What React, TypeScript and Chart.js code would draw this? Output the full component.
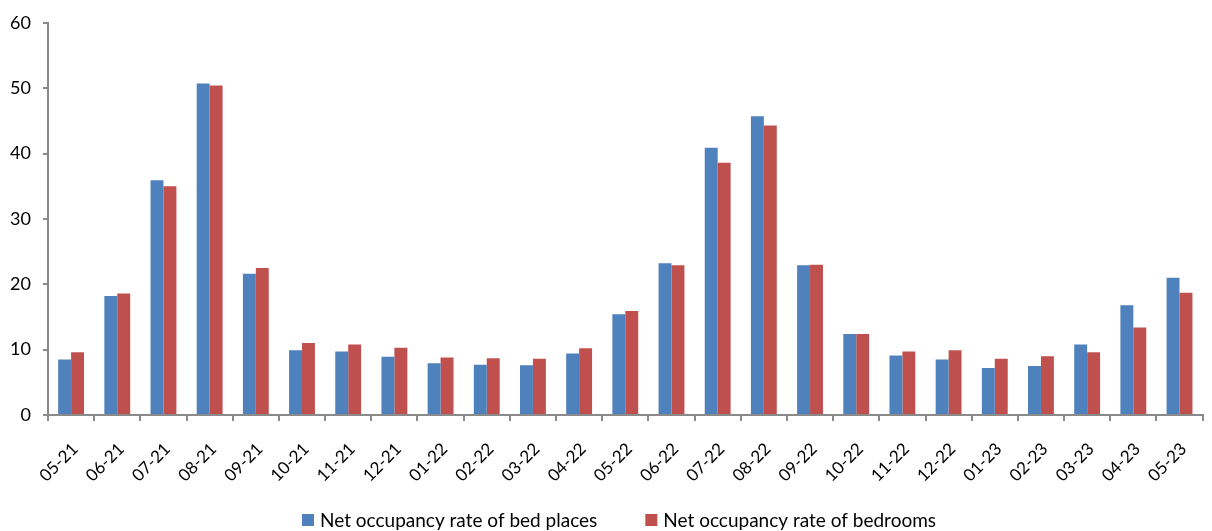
import React, { useEffect, useRef } from "react";
import { Chart, registerables } from "chart.js";

Chart.register(...registerables);

const months = [
  "05-21", "06-21", "07-21", "08-21", "09-21", "10-21", "11-21", "12-21",
  "01-22", "02-22", "03-22", "04-22", "05-22", "06-22", "07-22", "08-22",
  "09-22", "10-22", "11-22", "12-22", "01-23", "02-23", "03-23", "04-23", "05-23",
];

const bedPlaces = [
  8.5, 18.2, 35.9, 50.7, 21.6, 9.9, 9.7, 8.9,
  7.9, 7.7, 7.6, 9.4, 15.4, 23.2, 40.9, 45.7,
  22.9, 12.4, 9.1, 8.5, 7.2, 7.5, 10.8, 16.8, 21.0,
];

const bedrooms = [
  9.6, 18.6, 35.0, 50.4, 22.5, 11.0, 10.8, 10.3,
  8.8, 8.7, 8.6, 10.2, 15.9, 22.9, 38.6, 44.3,
  23.0, 12.4, 9.7, 9.9, 8.6, 9.0, 9.6, 13.4, 18.7,
];

const yTicks = [0, 10, 20, 30, 40, 50, 60];

const FONT = "Lato, 'Open Sans', sans-serif";
const AXIS = "#8a8a8a";

// Bottom legend drawn by hand so box size, gaps and vertical position can be set freely.
const bottomLegend = {
  id: "bottomLegend",
  afterDraw(chart: any) {
    const { ctx } = chart;
    const box = 12;
    const boxGap = 6;
    const itemGap = 48;
    const centerX = 619;
    const centerY = 520;
    ctx.save();
    ctx.font = `19px ${FONT}`;
    ctx.textBaseline = "middle";
    ctx.textAlign = "left";
    const items = chart.data.datasets.map((ds: any) => ({
      label: ds.label as string,
      color: ds.backgroundColor as string,
      w: ctx.measureText(ds.label).width,
    }));
    const total =
      items.reduce((s: number, it: any) => s + box + boxGap + it.w, 0) +
      itemGap * (items.length - 1);
    let x = centerX - total / 2;
    for (const it of items) {
      ctx.fillStyle = it.color;
      ctx.fillRect(x, centerY - box / 2, box, box);
      x += box + boxGap;
      ctx.fillStyle = "#000";
      ctx.fillText(it.label, x, centerY + 1);
      x += it.w + itemGap;
    }
    ctx.restore();
  },
};

export default function App() {
  const ref = useRef<HTMLCanvasElement | null>(null);

  useEffect(() => {
    document.body.style.margin = "0";
    const canvas = ref.current;
    if (!canvas) return;
    const chart = new Chart(canvas, {
      type: "bar",
      data: {
        labels: months,
        datasets: [
          {
            label: "Net occupancy rate of bed places",
            data: bedPlaces,
            backgroundColor: "#4F81BD",
            categoryPercentage: 0.56,
            barPercentage: 1,
          },
          {
            label: "Net occupancy rate of bedrooms",
            data: bedrooms,
            backgroundColor: "#C0504D",
            categoryPercentage: 0.56,
            barPercentage: 1,
          },
        ],
      },
      plugins: [bottomLegend],
      options: {
        responsive: false,
        animation: false,
        devicePixelRatio: 1,
        layout: { padding: { left: 0, top: 17, right: 3, bottom: 36 } },
        plugins: {
          tooltip: { enabled: false },
          legend: { display: false },
        },
        scales: {
          x: {
            grid: {
              display: true,
              drawOnChartArea: false,
              offset: true,
              tickLength: 6,
              color: AXIS,
              lineWidth: 2,
            },
            border: { color: AXIS, width: 2 },
            ticks: {
              color: "#000",
              font: { family: FONT, size: 17 },
              minRotation: 45,
              maxRotation: 45,
              autoSkip: false,
              padding: 18,
              labelOffset: 4,
            },
            afterFit: (scale: any) => {
              scale.height = 80;
            },
          },
          y: {
            min: 0,
            max: 60,
            afterBuildTicks: (scale: any) => {
              scale.ticks = yTicks.map((v) => ({ value: v }));
            },
            grid: {
              display: true,
              drawOnChartArea: false,
              tickLength: 5,
              color: AXIS,
              lineWidth: 2,
            },
            border: { color: AXIS, width: 2 },
            ticks: {
              color: "#000",
              font: { family: FONT, size: 18 },
              padding: 12,
            },
            afterFit: (scale: any) => {
              scale.width = 48;
            },
          },
        },
      },
    });
    return () => chart.destroy();
  }, []);

  return <canvas ref={ref} width={1212} height={531} style={{ display: "block" }} />;
}
